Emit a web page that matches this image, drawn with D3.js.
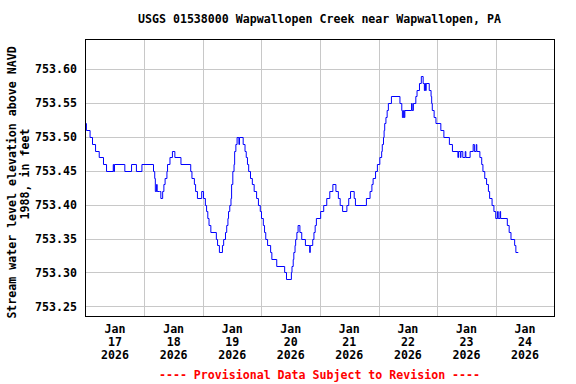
<!DOCTYPE html>
<html>
<head>
<meta charset="utf-8">
<script src="https://cdn.jsdelivr.net/npm/d3@7"></script>
<style>
  body { margin: 0; background: #fff; }
  svg text { font-family: "DejaVu Sans Mono", monospace; font-weight: bold; font-size: 11.6px; fill: #000; }
</style>
</head>
<body>
<svg width="576" height="384"></svg>
<script>
var siteTitle = "USGS 01538000 Wapwallopen Creek near Wapwallopen, PA";
var yTitle = ["Stream water level elevation above NAVD", "1988, in feet"];
var footer = "---- Provisional Data Subject to Revision ----";

var startTime = new Date(2026, 0, 17, 0, 0);
var endTime = new Date(2026, 0, 25, 0, 0);
var yTicks = [753.25, 753.30, 753.35, 753.40, 753.45, 753.50, 753.55, 753.60];
var dayNames = ["17", "18", "19", "20", "21", "22", "23", "24"];

// change points of the 15-min record: hours after Jan 17 00:00, and elevation (ft)
var hours = [0, 0.25, 1.75, 2.75, 4, 5.5, 7.25, 8.5, 11.25, 11.5, 11.75, 16, 18.75, 20.75, 23,
  27.75, 28.25, 28.5, 29, 29.25, 30.25, 30.75, 31.5, 32, 32.5, 33.25, 33.5, 34.5, 35.5,
  36.5, 39, 43, 43.5, 44.5, 45, 45.75, 47.5, 48.25, 49, 49.5, 50, 50.5, 51.25, 53.5, 54, 54.75,
  56, 56.5, 57.25, 57.75, 58.25, 58.5, 59, 59.5, 59.75, 60.25, 60.75, 61, 61.5, 62, 62.75, 63,
  64.5, 65.25, 65.75, 66.25, 66.75, 67.5, 68.25, 69, 70, 70.75, 71.5, 72, 72.75, 73.25, 73.75,
  74.5, 75.75, 76.25, 78.25, 81.5, 82.25, 84.25, 84.5, 85, 85.25, 85.75, 86, 86.5, 87, 87.75,
  88.5, 90, 91.75, 92, 93, 93.5, 94, 94.5, 96.25, 97.5, 98.75, 100, 101.25, 102.5, 103.5,
  104.25, 105.25, 107, 107.75, 108.5, 110, 110.5, 115, 116.5, 117.25, 117.75, 118.75, 119.5,
  120.5, 121.25, 121.5, 122, 122.25, 122.5, 123, 123.5, 124, 125.25, 128.75, 129.5, 129.75,
  130.25, 130.5, 130.75, 133.5, 133.75, 134.25, 135.25, 135.75, 136.75, 137.5, 138.25, 138.75,
  139, 139.25, 139.5, 140.75, 141.5, 141.75, 142, 142.75, 143.5, 145.5, 146.75, 149, 150.25,
  152.5, 152.75, 153.5, 153.75, 154.5, 155.5, 155.75, 157.5, 158.75, 159.25, 160, 160.25,
  161.5, 162.25, 162.75, 163.5, 164.25, 165, 165.5, 166.5, 167.25, 168, 168.75,
  169, 169.75, 170, 172.75, 173.5, 174.25, 175.75, 176.25, 177.25];

var elevation = [753.52, 753.51, 753.50, 753.49, 753.48, 753.47, 753.46, 753.45, 753.46, 753.45, 753.46, 753.45, 753.46, 753.45, 753.46,
  753.45, 753.44, 753.42, 753.43, 753.42, 753.42, 753.41, 753.42, 753.43, 753.44, 753.45, 753.46, 753.47, 753.48,
  753.47, 753.46, 753.45, 753.44, 753.43, 753.42, 753.41, 753.42, 753.41, 753.40, 753.39, 753.38, 753.37, 753.36, 753.35, 753.34, 753.33,
  753.34, 753.35, 753.36, 753.37, 753.38, 753.39, 753.40, 753.41, 753.43, 753.45, 753.46, 753.48, 753.49, 753.50, 753.49, 753.50,
  753.49, 753.48, 753.47, 753.46, 753.45, 753.44, 753.43, 753.42, 753.41, 753.40, 753.39, 753.38, 753.37, 753.36, 753.35,
  753.34, 753.33, 753.32, 753.31, 753.30, 753.29, 753.30, 753.31, 753.32, 753.33, 753.34, 753.35, 753.36, 753.37, 753.36,
  753.35, 753.34, 753.33, 753.34, 753.35, 753.36, 753.37, 753.38, 753.39, 753.40, 753.41, 753.42, 753.43, 753.42, 753.41,
  753.40, 753.39, 753.40, 753.41, 753.42, 753.41, 753.40, 753.41, 753.42, 753.43, 753.44, 753.45, 753.46,
  753.47, 753.48, 753.49, 753.50, 753.51, 753.52, 753.53, 753.54, 753.55, 753.56, 753.55, 753.54, 753.53,
  753.54, 753.53, 753.54, 753.55, 753.54, 753.55, 753.56, 753.57, 753.58, 753.59, 753.58, 753.57,
  753.58, 753.57, 753.58, 753.57, 753.56, 753.55, 753.54, 753.53, 753.52, 753.51, 753.50, 753.49, 753.48,
  753.47, 753.48, 753.47, 753.48, 753.47, 753.48, 753.47, 753.48, 753.49, 753.48, 753.49, 753.48,
  753.47, 753.46, 753.45, 753.44, 753.43, 753.42, 753.41, 753.40, 753.39, 753.38, 753.39,
  753.38, 753.39, 753.38, 753.37, 753.36, 753.35, 753.34, 753.33, 753.33];

var svg = d3.select("svg"),
    plotLeft = 85, plotTop = 39, plotRight = 554, plotBottom = 316;

var data = hours.map(function(h, i) {
  return { t: new Date(startTime.getTime() + h * 3600e3), v: elevation[i] };
});

var x = d3.scaleTime().domain([startTime, endTime]).range([plotLeft + 0.8, plotRight + 0.3]);
var y = d3.scaleLinear().domain([753.2357, 753.6447]).range([plotBottom, plotTop]);

// grid: horizontal at each tick, vertical at each midnight
var grid = svg.append("g").attr("stroke", "#c8c8c8").attr("stroke-width", 1)
    .attr("shape-rendering", "crispEdges");

grid.selectAll("line.h")
  .data(yTicks)
  .enter().append("line")
    .attr("class", "h")
    .attr("x1", plotLeft).attr("x2", plotRight)
    .attr("y1", function(d) { return Math.round(y(d)) + 0.5; })
    .attr("y2", function(d) { return Math.round(y(d)) + 0.5; });

var midnights = d3.timeDay.range(d3.timeDay.offset(startTime, 1), endTime);
grid.selectAll("line.v")
  .data(midnights)
  .enter().append("line")
    .attr("class", "v")
    .attr("y1", plotTop).attr("y2", plotBottom)
    .attr("x1", function(d) { return Math.round(x(d)) + 0.5; })
    .attr("x2", function(d) { return Math.round(x(d)) + 0.5; });

// the record
var line = d3.line()
    .curve(d3.curveStepAfter)
    .x(function(d) { return x(d.t); })
    .y(function(d) { return Math.round(y(d.v)) + 0.5; });

svg.append("path")
    .datum(data)
    .attr("fill", "none")
    .attr("stroke", "#0000ff")
    .attr("stroke-width", 1)
    .attr("d", line);

// frame
svg.append("rect")
    .attr("x", plotLeft + 0.5).attr("y", plotTop + 0.5)
    .attr("width", plotRight - plotLeft).attr("height", plotBottom - plotTop)
    .attr("fill", "none").attr("stroke", "#000").attr("stroke-width", 1)
    .attr("shape-rendering", "crispEdges");

// y axis labels
var yAxis = d3.axisLeft(y).tickValues(yTicks).tickFormat(d3.format(".2f"))
    .tickSize(0).tickPadding(8);
var yg = svg.append("g").attr("transform", "translate(" + plotLeft + ",0)").call(yAxis);
yg.select(".domain").remove();
yg.attr("font-family", null).attr("font-size", null);
yg.selectAll("text").attr("fill", null);

// x axis labels at noon of each day, three lines each
var noons = dayNames.map(function(d, i) { return d3.timeHour.offset(d3.timeDay.offset(startTime, i), 12); });
var xg = svg.append("g");
noons.forEach(function(t, i) {
  var tx = xg.append("text").attr("text-anchor", "middle").attr("x", x(t));
  tx.append("tspan").attr("x", x(t)).attr("y", 333).text("Jan");
  tx.append("tspan").attr("x", x(t)).attr("y", 346).text(dayNames[i]);
  tx.append("tspan").attr("x", x(t)).attr("y", 359).text("2026");
});

// title, axis title, footer
svg.append("text")
    .attr("x", (plotLeft + plotRight) / 2).attr("y", 23)
    .attr("text-anchor", "middle")
    .text(siteTitle);

svg.append("text")
    .attr("transform", "translate(15.5,182.5) rotate(-90)")
    .attr("text-anchor", "middle")
    .text(yTitle[0]);
svg.append("text")
    .attr("transform", "translate(28.5,174) rotate(-90)")
    .attr("text-anchor", "middle")
    .text(yTitle[1]);

svg.append("text")
    .attr("x", (plotLeft + plotRight) / 2).attr("y", 379)
    .attr("text-anchor", "middle")
    .style("fill", "#ff0000")
    .text(footer);
</script>
</body>
</html>
